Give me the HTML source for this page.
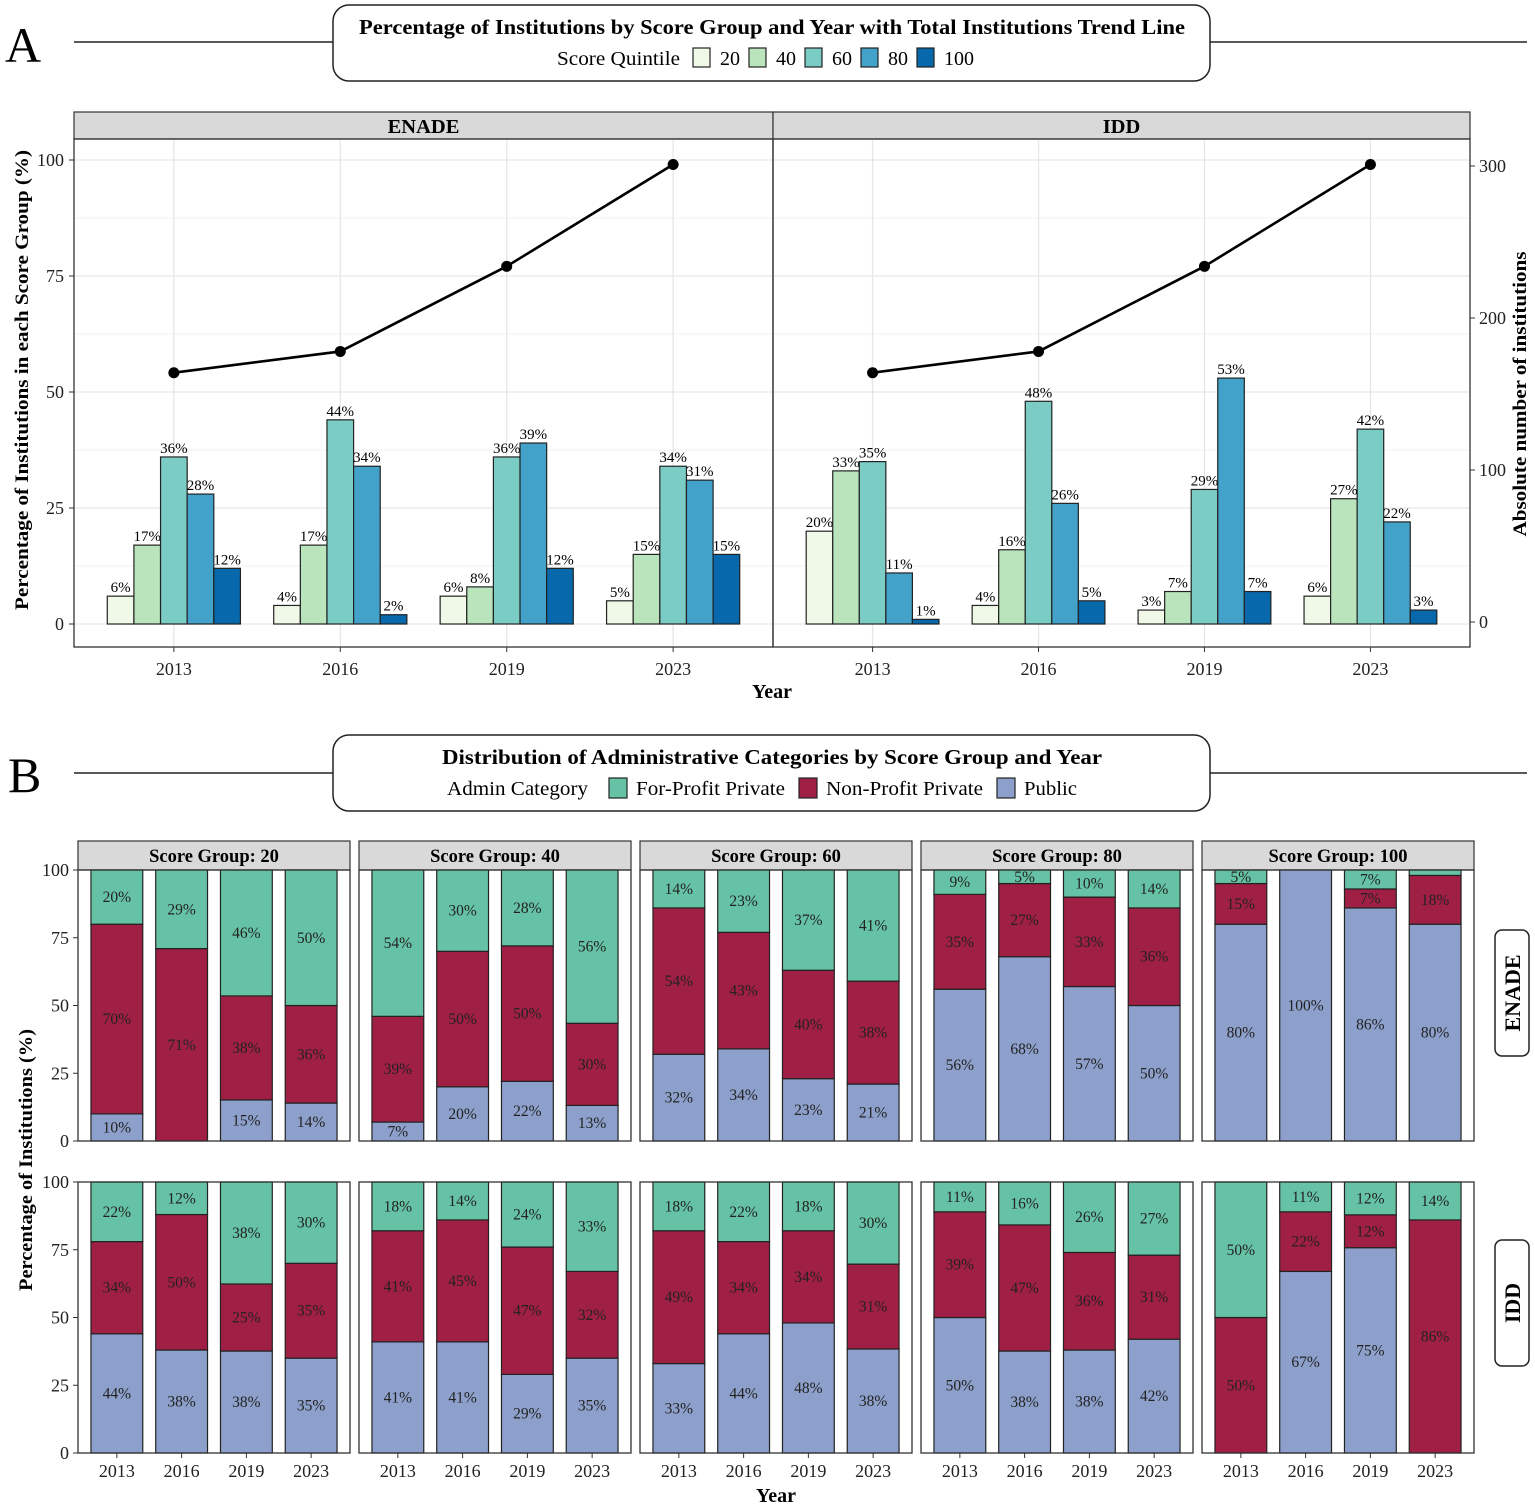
<!DOCTYPE html>
<html><head><meta charset="utf-8"><style>
html,body{margin:0;padding:0;background:#fff;}
svg{display:block;font-family:"Liberation Serif",serif;}
</style></head><body>
<svg id="chart" width="1535" height="1508" viewBox="0 0 1535 1508" xmlns="http://www.w3.org/2000/svg">
<rect width="1535" height="1508" fill="#fff"/>
<text x="5" y="62" font-size="50">A</text>
<line x1="74" y1="42" x2="333" y2="42" stroke="#222" stroke-width="1.5"/>
<line x1="1210" y1="42" x2="1527" y2="42" stroke="#222" stroke-width="1.5"/>
<rect x="333" y="5" width="877" height="76" rx="16" fill="#fff" stroke="#222" stroke-width="1.5"/>
<text x="772" y="34" font-size="21" font-weight="bold" text-anchor="middle" textLength="826" lengthAdjust="spacingAndGlyphs">Percentage of Institutions by Score Group and Year with Total Institutions Trend Line</text>
<text x="557" y="65" font-size="20" textLength="123" lengthAdjust="spacingAndGlyphs">Score Quintile</text>
<g id="legA"></g>
<text x="8" y="792" font-size="50">B</text>
<line x1="74" y1="773" x2="333" y2="773" stroke="#222" stroke-width="1.5"/>
<line x1="1210" y1="773" x2="1527" y2="773" stroke="#222" stroke-width="1.5"/>
<rect x="333" y="735" width="877" height="76" rx="16" fill="#fff" stroke="#222" stroke-width="1.5"/>
<text x="772" y="764" font-size="21" font-weight="bold" text-anchor="middle" textLength="660" lengthAdjust="spacingAndGlyphs">Distribution of Administrative Categories by Score Group and Year</text>
<text x="447" y="795" font-size="20" textLength="141" lengthAdjust="spacingAndGlyphs">Admin Category</text>
<g id="legB"></g>
<g id="plotA"></g>
<g id="plotB"></g>
<text transform="translate(28,380) rotate(-90)" font-size="19" font-weight="bold" text-anchor="middle" textLength="460" lengthAdjust="spacingAndGlyphs">Percentage of Institutions in each Score Group (%)</text>
<text transform="translate(1526,394) rotate(-90)" font-size="19" font-weight="bold" text-anchor="middle" textLength="285" lengthAdjust="spacingAndGlyphs">Absolute number of institutions</text>
<text x="772" y="698" font-size="20" font-weight="bold" text-anchor="middle">Year</text>
<text transform="translate(32,1160) rotate(-90)" font-size="19" font-weight="bold" text-anchor="middle" textLength="262" lengthAdjust="spacingAndGlyphs">Percentage of Institutions (%)</text>
<text x="776" y="1502" font-size="20" font-weight="bold" text-anchor="middle">Year</text>
</svg>
<script>
const years = ["2013","2016","2019","2023"];
const quintiles = ["20","40","60","80","100"];
const enadePct = [[6,17,36,28,12],[4,17,44,34,2],[6,8,36,39,12],[5,15,34,31,15]];
const iddPct = [[20,33,35,11,1],[4,16,48,26,5],[3,7,29,53,7],[6,27,42,22,3]];
const enadeTotals = [164,178,234,301];
const iddTotals = [164,178,234,301];
const leftTicks = [0,25,50,75,100];
const rightTicks = [0,100,200,300];
const scoreGroups = ["20","40","60","80","100"];
const adminCats = ["Public","Non-Profit Private","For-Profit Private"];
const enadePublic = [[10,0,15,14],[7,20,22,13],[32,34,23,21],[56,68,57,50],[80,100,86,80]];
const enadeNonProfit = [[70,71,38,36],[39,50,50,30],[54,43,40,38],[35,27,33,36],[15,0,7,18]];
const enadeForProfit = [[20,29,46,50],[54,30,28,56],[14,23,37,41],[9,5,10,14],[5,0,7,2]];
const iddPublic = [[44,38,38,35],[41,41,29,35],[33,44,48,38],[50,38,38,42],[0,67,75,0]];
const iddNonProfit = [[34,50,25,35],[41,45,47,32],[49,34,34,31],[39,47,36,31],[50,22,12,86]];
const iddForProfit = [[22,12,38,30],[18,14,24,33],[18,22,18,30],[11,16,26,27],[50,11,12,14]];
const bTicks = [0,25,50,75,100];

const NS="http://www.w3.org/2000/svg";
function mk(parent,tag,attrs,text){const e=document.createElementNS(NS,tag);for(const k in attrs)e.setAttribute(k,attrs[k]);if(text!==undefined)e.textContent=text;parent.appendChild(e);return e;}
const qColors=["#f0f9e8","#bae4bc","#7bccc4","#43a2ca","#0868ac"];
const aColors={"Public":"#8da0cb","Non-Profit Private":"#a01f44","For-Profit Private":"#66c2a5"};

const legA=document.getElementById('legA');
quintiles.forEach((q,i)=>{
  const x=693+i*56;
  const r=mk(legA,'rect',{x:x,y:48,width:17,height:19,fill:qColors[i],stroke:'#222','stroke-width':1.2});
  
  
  const t=mk(legA,'text',{x:x+27,y:65,'font-size':20},q);
  
  
});
const legB=document.getElementById('legB');
[["For-Profit Private",609,149],["Non-Profit Private",799,157],["Public",997,53]].forEach(([c,x,w])=>{
  const r=mk(legB,'rect',{x:x,y:778,width:18,height:20,fill:aColors[c],stroke:'#222','stroke-width':1.2});
  
  
  const t=mk(legB,'text',{x:x+27,y:795,'font-size':20,textLength:w,lengthAdjust:'spacingAndGlyphs'},c);
  
  
});

const gA=document.getElementById('plotA');
const yA=v=>624-v*4.64;
const yR=v=>622-v*1.52;
function panelA(x0,x1,name,pct,totals,leftAxis,rightAxis){
  const g=mk(gA,'g',{});
  
  
  const w=x1-x0, unit=w/4.2;
  const xc=i=>x0+unit*(0.6+i);
  const s=mk(g,'rect',{x:x0,y:112,width:w,height:27,fill:'#d9d9d9',stroke:'#333','stroke-width':1.2});
  
  
  mk(g,'text',{x:(x0+x1)/2,y:133,'font-size':20.5,'font-weight':'bold','text-anchor':'middle'},name);
  for(let v=12.5;v<=100;v+=25) mk(g,'line',{x1:x0,x2:x1,y1:yA(v),y2:yA(v),stroke:'#f0f0f0','stroke-width':1});
  leftTicks.forEach(v=>mk(g,'line',{x1:x0,x2:x1,y1:yA(v),y2:yA(v),stroke:'#e6e6e6','stroke-width':1.3}));
  years.forEach((y,i)=>mk(g,'line',{x1:xc(i),x2:xc(i),y1:139,y2:647,stroke:'#e6e6e6','stroke-width':1.3}));
  const bw=unit*0.8/5;
  pct.forEach((arr,i)=>{
    arr.forEach((v,j)=>{
      const bx=xc(i)-unit*0.4+j*bw;
      const r=mk(g,'rect',{x:bx,y:yA(v),width:bw,height:yA(0)-yA(v),fill:qColors[j],stroke:'#222','stroke-width':1.2});
      
      
      const t=mk(g,'text',{x:bx+bw/2,y:yA(v)-4,'font-size':15,'text-anchor':'middle'},v+'%');
      
      
    });
  });
  const pts=totals.map((v,i)=>xc(i)+','+yR(v)).join(' ');
  const pl=mk(g,'polyline',{points:pts,fill:'none',stroke:'#000','stroke-width':2.6});
  
  
  totals.forEach((v,i)=>{
    const c=mk(g,'circle',{cx:xc(i),cy:yR(v),r:5.5,fill:'#000'});
    
    
  });
  mk(g,'rect',{x:x0,y:139,width:w,height:508,fill:'none',stroke:'#333','stroke-width':1.3});
  years.forEach((y,i)=>{
    mk(g,'line',{x1:xc(i),x2:xc(i),y1:647,y2:652,stroke:'#333'});
    mk(g,'text',{x:xc(i),y:675,'font-size':18,'text-anchor':'middle',fill:'#222'},y);
  });
  if(leftAxis) leftTicks.forEach(v=>{
    mk(g,'line',{x1:x0-5,x2:x0,y1:yA(v),y2:yA(v),stroke:'#333'});
    mk(g,'text',{x:x0-10,y:yA(v)+6,'font-size':18,'text-anchor':'end',fill:'#222'},v);
  });
  if(rightAxis) rightTicks.forEach(v=>{
    mk(g,'line',{x1:x1,x2:x1+5,y1:yR(v),y2:yR(v),stroke:'#333'});
    mk(g,'text',{x:x1+9,y:yR(v)+6,'font-size':18,fill:'#222'},v);
  });
}
panelA(74,773,'ENADE',enadePct,enadeTotals,true,false);
panelA(773,1470,'IDD',iddPct,iddTotals,false,true);

const gB=document.getElementById('plotB');
function panelB(col,rowTop,rowName,pub,np,fp,showStrip,showX){
  const x0=78+col*281, w=272, x1=x0+w, h=271;
  const yB=v=>rowTop+h-v*2.71;
  const unit=w/4.2, xc=i=>x0+unit*(0.6+i), bw=unit*0.8;
  const g=mk(gB,'g',{});
  
  
  if(showStrip){
    const s=mk(g,'rect',{x:x0,y:841,width:w,height:29,fill:'#d9d9d9',stroke:'#333','stroke-width':1.2});
    
    
    mk(g,'text',{x:x0+w/2,y:862,'font-size':18.5,'font-weight':'bold','text-anchor':'middle'},'Score Group: '+scoreGroups[col]);
  }
  years.forEach((y,i)=>{
    const segs=[["Public",pub[col][i]],["Non-Profit Private",np[col][i]],["For-Profit Private",fp[col][i]]];
    const tot=segs.reduce((a,s)=>a+s[1],0)||1;
    const k=100/tot;
    let base=0;
    segs.forEach(([c,v])=>{
      const hv=v*k;
      if(v>0){
        const r=mk(g,'rect',{x:xc(i)-bw/2,y:yB(base+hv),width:bw,height:hv*2.71,fill:aColors[c],stroke:'#222','stroke-width':1.2});
        
        
        if(v>=3){
          const t=mk(g,'text',{x:xc(i),y:yB(base+hv/2)+5,'font-size':15.5,'text-anchor':'middle',fill:'#222'},v+'%');
          
          
        }
      }
      base+=hv;
    });
  });
  mk(g,'rect',{x:x0,y:rowTop,width:w,height:h,fill:'none',stroke:'#333','stroke-width':1.3});
  if(col===0) bTicks.forEach(v=>{
    mk(g,'line',{x1:x0-5,x2:x0,y1:yB(v),y2:yB(v),stroke:'#333'});
    mk(g,'text',{x:x0-9,y:yB(v)+6,'font-size':18,'text-anchor':'end',fill:'#222'},v);
  });
  if(showX) years.forEach((y,i)=>{
    mk(g,'line',{x1:xc(i),x2:xc(i),y1:rowTop+h,y2:rowTop+h+5,stroke:'#333'});
    mk(g,'text',{x:xc(i),y:rowTop+h+24,'font-size':18,'text-anchor':'middle',fill:'#222'},y);
  });
}
for(let c=0;c<5;c++){
  panelB(c,870,'ENADE',enadePublic,enadeNonProfit,enadeForProfit,true,false);
  panelB(c,1182,'IDD',iddPublic,iddNonProfit,iddForProfit,false,true);
}
[["ENADE",930],["IDD",1240]].forEach(([n,y])=>{
  const r=mk(gB,'rect',{x:1495,y:y,width:34,height:126,rx:7,fill:'#fff',stroke:'#222','stroke-width':1.5});
  
  
  mk(gB,'text',{transform:'translate(1520,'+(y+63)+') rotate(-90)','font-size':22,'font-weight':'bold','text-anchor':'middle'},n);
});
</script>
</body></html>
